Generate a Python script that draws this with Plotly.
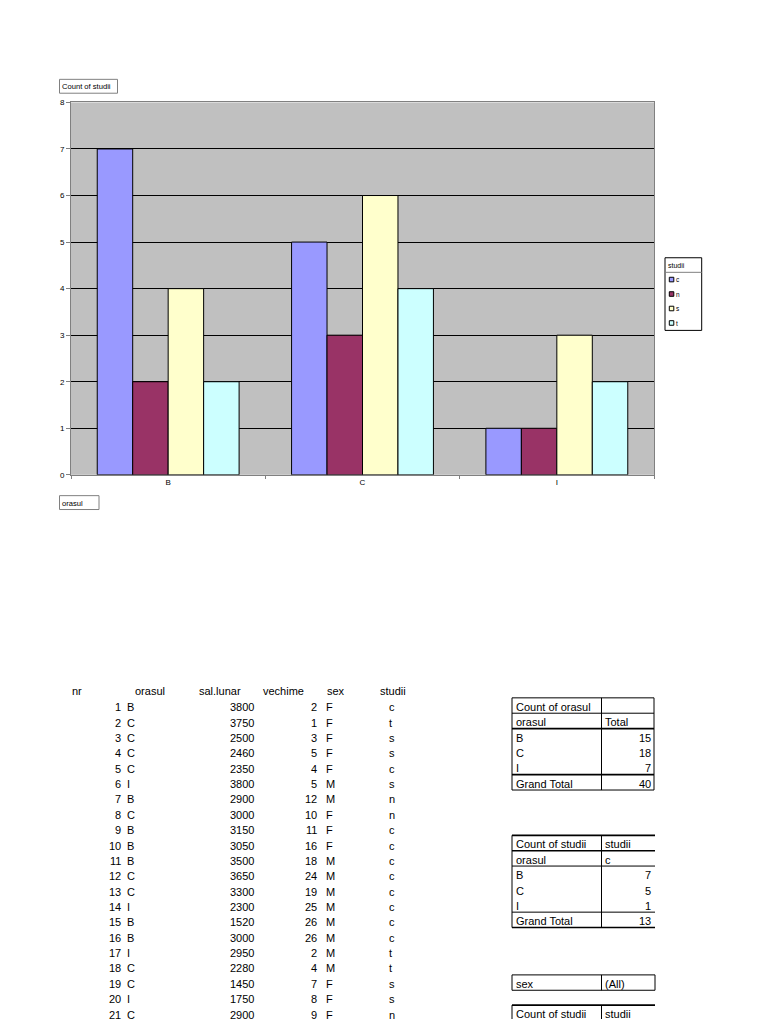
import plotly.graph_objects as go

W, H = 768, 1024

# ---------------- chart data ----------------
orase = ["B", "C", "I"]
studii_cats = ["c", "n", "s", "t"]
count_c = [7, 5, 1]
count_n = [2, 3, 1]
count_s = [4, 6, 3]
count_t = [2, 4, 2]
bar_colors = ["#9999FF", "#993366", "#FFFFCC", "#CCFFFF"]
y_ticks = [0, 1, 2, 3, 4, 5, 6, 7, 8]
chart_title = "Count of studii"
x_field = "orasul"
legend_title = "studii"

# ---------------- raw data table ----------------
col_headers = ["nr", "orasul", "sal.lunar", "vechime", "sex", "studii"]
nr = [1, 2, 3, 4, 5, 6, 7, 8, 9, 10, 11, 12, 13, 14, 15, 16, 17, 18, 19, 20, 21]
orasul = ["B", "C", "C", "C", "C", "I", "B", "C", "B", "B", "B", "C", "C", "I",
          "B", "B", "I", "C", "C", "I", "C"]
sal_lunar = [3800, 3750, 2500, 2460, 2350, 3800, 2900, 3000, 3150, 3050, 3500,
             3650, 3300, 2300, 1520, 3000, 2950, 2280, 1450, 1750, 2900]
vechime = [2, 1, 3, 5, 4, 5, 12, 10, 11, 16, 18, 24, 19, 25, 26, 26, 2, 4, 7, 8, 9]
sex = ["F", "F", "F", "F", "F", "M", "M", "F", "F", "F", "M", "M", "M", "M",
       "M", "M", "M", "M", "F", "F", "F"]
studii = ["c", "t", "s", "s", "c", "s", "n", "n", "c", "c", "c", "c", "c", "c",
          "c", "c", "t", "t", "s", "s", "n"]

# ---------------- pivot tables ----------------
pivot1_head = ["Count of orasul", ""]
pivot1_sub = ["orasul", "Total"]
pivot1_rows = ["B", "C", "I"]
pivot1_vals = [15, 18, 7]
pivot1_total = 40

pivot2_head = ["Count of studii", "studii"]
pivot2_sub = ["orasul", "c"]
pivot2_rows = ["B", "C", "I"]
pivot2_vals = [7, 5, 1]
pivot2_total = 13

filter_row = ["sex", "(All)"]
pivot4_head = ["Count of studii", "studii"]
grand_label = "Grand Total"


def px(x):
    return x / W


def py(y):
    return 1 - y / H


CH_FONT = "Liberation Sans, Arial, sans-serif"
TB_FONT = "Liberation Sans, Arial, sans-serif"
TB_SIZE = 11
DY = 1.5  # cap-centre correction for annotation boxes

fig = go.Figure()
series = [count_c, count_n, count_s, count_t]
for name, vals, col in zip(studii_cats, series, bar_colors):
    fig.add_trace(go.Bar(
        x=orase, y=vals, name=name,
        marker=dict(color=col, line=dict(color="black", width=1)),
        showlegend=False,
    ))

shapes = []
ann = []


def text(x, y, s, anchor="left", size=TB_SIZE, family=TB_FONT, dy=DY):
    ann.append(dict(x=px(x), y=py(y + dy), xref="paper", yref="paper", text=str(s),
                    showarrow=False, xanchor=anchor, yanchor="middle",
                    font=dict(family=family, size=size, color="black")))


def line(x0, y0, x1, y1, w=1, color="black"):
    shapes.append(dict(type="line", xref="paper", yref="paper",
                       x0=px(x0), y0=py(y0), x1=px(x1), y1=py(y1),
                       line=dict(color=color, width=w)))


def rect(x0, y0, x1, y1, w=1, color="black", fill=None):
    shapes.append(dict(type="rect", xref="paper", yref="paper",
                       x0=px(x0), y0=py(y0), x1=px(x1), y1=py(y1),
                       line=dict(color=color, width=w),
                       fillcolor=fill if fill else "rgba(0,0,0,0)"))


# chart label boxes
rect(59.5, 76, 117.5, 90, color="#808080")
text(60, 83, chart_title, size=7.6, family=CH_FONT, dy=0.5)
rect(59.5, 496, 99, 510, color="#808080")
text(60, 503, x_field, size=7.6, family=CH_FONT, dy=0.5)

# custom legend
rect(665, 256, 701.7, 329.3, color="black")
line(665, 270.7, 701.7, 270.7, color="#808080")
text(665.5, 263.5, legend_title, size=7, family=CH_FONT, dy=0.5)
for i, (name, col) in enumerate(zip(studii_cats, bar_colors)):
    yc = 278 + i * 14.6
    rect(669.3, yc - 2.3, 673.8, yc + 2.3, color="black", fill=col)
    text(674, yc, name, size=6.5, family=CH_FONT, dy=0.3)

# raw data table
hdr_x = [70, 133, 196.7, 260.7, 325, 378]
for hx, h in zip(hdr_x, col_headers):
    text(hx, 692, h)
for i in range(len(nr)):
    yc = 708 + i * 15.5
    text(123, yc, nr[i], anchor="right")
    text(124.5, yc, orasul[i])
    text(256, yc, sal_lunar[i], anchor="right")
    text(319, yc, vechime[i], anchor="right")
    text(323.5, yc, sex[i])
    text(387, yc, studii[i])

# pivot table 1
L, D, R = 512, 601.5, 654
t = 700
rh = 15.5
rect(L, t, R, t + 6 * rh)
line(D, t, D, t + 6 * rh)
line(L, t + rh, R, t + rh)
line(L, t + 2 * rh, R, t + 2 * rh, w=1.6)
line(L, t + 5 * rh, R, t + 5 * rh, w=1.6)
text(L + 1.5, t + rh / 2, pivot1_head[0])
text(D + 1.5, t + rh / 2, pivot1_head[1])
text(L + 1.5, t + 1.5 * rh, pivot1_sub[0])
text(D + 1.5, t + 1.5 * rh, pivot1_sub[1])
for i, (lab, v) in enumerate(zip(pivot1_rows, pivot1_vals)):
    text(L + 1.5, t + (2.5 + i) * rh, lab)
    text(R - 1.5, t + (2.5 + i) * rh, v, anchor="right")
text(L + 1.5, t + 5.5 * rh, grand_label)
text(R - 1.5, t + 5.5 * rh, pivot1_total, anchor="right")

# pivot table 2 (open on the right)
t = 838.7
R2 = 655
line(L, t, R2, t, w=1.6)
line(L, t + rh, R2, t + rh, w=1.6)
line(L, t + 2 * rh, R2, t + 2 * rh)
line(L, t + 5 * rh, R2, t + 5 * rh)
line(L, t + 6 * rh, R2, t + 6 * rh, w=1.6)
line(L, t, L, t + 6 * rh)
line(D, t, D, t + 6 * rh)
text(L + 1.5, t + rh / 2, pivot2_head[0])
text(D + 1.5, t + rh / 2, pivot2_head[1])
text(L + 1.5, t + 1.5 * rh, pivot2_sub[0])
text(D + 1.5, t + 1.5 * rh, pivot2_sub[1])
for i, (lab, v) in enumerate(zip(pivot2_rows, pivot2_vals)):
    text(L + 1.5, t + (2.5 + i) * rh, lab)
    text(R - 1.5, t + (2.5 + i) * rh, v, anchor="right")
text(L + 1.5, t + 5.5 * rh, grand_label)
text(R - 1.5, t + 5.5 * rh, pivot2_total, anchor="right")

# filter row
t = 979.5
rect(L, t, R2, t + rh)
line(D, t, D, t + rh)
text(L + 1.5, t + rh / 2, filter_row[0])
text(D + 1.5, t + rh / 2, filter_row[1])

# pivot table 4 (cut off by page end)
t = 1010
line(L, t, R2, t, w=1.6)
line(L, t, L, H)
line(D, t, D, H)
text(L + 1.5, t + rh / 2, pivot4_head[0])
text(D + 1.5, t + rh / 2, pivot4_head[1])

fig.update_layout(
    width=W, height=H,
    margin=dict(l=0, r=0, t=0, b=0),
    paper_bgcolor="white",
    plot_bgcolor="#C0C0C0",
    barmode="group",
    bargap=0.27,
    bargroupgap=0,
    showlegend=False,
    shapes=shapes,
    annotations=ann,
    xaxis=dict(
        domain=[px(71), px(654)],
        type="category",
        showline=True, linecolor="#808080", linewidth=1, mirror=True,
        showgrid=False,
        ticks="outside", tickson="boundaries", ticklen=3, tickcolor="#808080",
        tickfont=dict(family=CH_FONT, size=8, color="black"),
    ),
    yaxis=dict(
        domain=[py(475), py(99.3)],
        range=[0, 8],
        tickvals=y_ticks,
        showline=True, linecolor="#808080", linewidth=1, mirror=True,
        showgrid=True, gridcolor="black", gridwidth=1,
        zeroline=False,
        ticks="outside", ticklen=4, tickcolor="#808080",
        tickfont=dict(family=CH_FONT, size=8, color="black"),
    ),
)

fig.write_html("out.html", config={"displayModeBar": False},
               post_script="document.body.style.margin='0';")
